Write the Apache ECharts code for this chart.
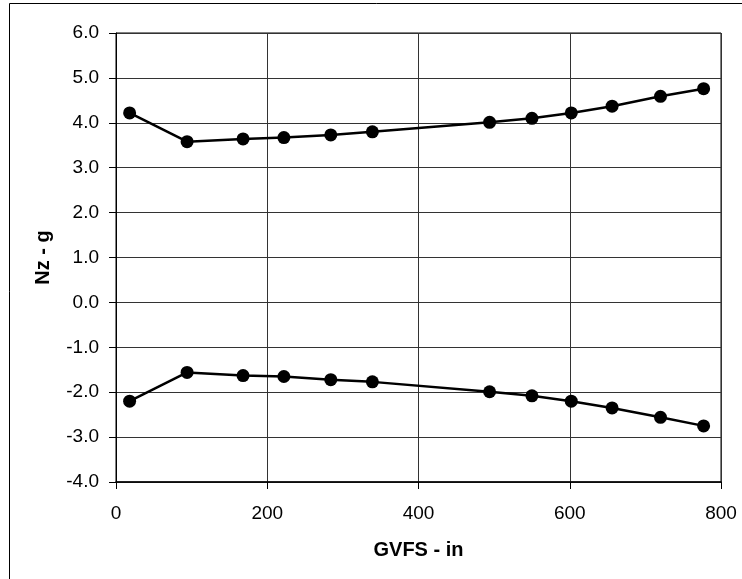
<!DOCTYPE html>
<html>
<head>
<meta charset="utf-8">
<script src="https://cdn.jsdelivr.net/npm/echarts@6/dist/echarts.min.js"></script>
<style>html,body{margin:0;padding:0;background:#fff}#c{width:742px;height:579px}</style>
</head>
<body>
<div id="c"></div>
<script>
var gvfs = [18, 94, 168, 222, 284, 339, 494, 550, 602, 656, 720, 777];
var nzUpper = [4.22, 3.58, 3.64, 3.67, 3.73, 3.80, 4.01, 4.10, 4.22, 4.37, 4.59, 4.76];
var nzLower = [-2.20, -1.56, -1.63, -1.65, -1.72, -1.77, -1.99, -2.08, -2.20, -2.35, -2.56, -2.75];
var xTicks = [0, 200, 400, 600, 800];
var yTicks = [-4, -3, -2, -1, 0, 1, 2, 3, 4, 5, 6];

function pairs(xs, ys){ return xs.map(function(x,i){ return [x, ys[i]]; }); }
var font = 'Liberation Sans, Arial, sans-serif';
var chart = echarts.init(document.getElementById('c'), null, {renderer:'canvas'});
var seriesStyle = {
  type:'line', symbol:'circle', symbolSize:13,
  lineStyle:{color:'#000', width:2.5},
  itemStyle:{color:'#000'},
  animation:false, z:5
};
chart.setOption({
  backgroundColor:'#fff',
  animation:false,
  graphic:[{type:'rect', shape:{x:9.5, y:3.5, width:800, height:700}, style:{fill:'none', stroke:'#000', lineWidth:1}, silent:true}],
  grid:{left:116, right:21, top:33, bottom:97, show:true, borderColor:'#000', borderWidth:1},
  xAxis:{
    type:'value', min:xTicks[0], max:xTicks[xTicks.length-1], interval:200,
    name:'GVFS - in', nameLocation:'middle', nameGap:58,
    nameTextStyle:{fontFamily:font, fontSize:20, fontWeight:'bold', color:'#000'},
    axisLine:{show:true, onZero:false, lineStyle:{color:'#000', width:1.5}},
    axisTick:{show:true, length:7, lineStyle:{color:'#000'}},
    axisLabel:{fontFamily:font, fontSize:19, color:'#000', margin:22},
    splitLine:{show:true, lineStyle:{color:'#333', width:1}}
  },
  yAxis:{
    type:'value', min:yTicks[0], max:yTicks[yTicks.length-1], interval:1,
    name:'Nz - g', nameLocation:'middle', nameGap:63,
    nameTextStyle:{fontFamily:font, fontSize:20, fontWeight:'bold', color:'#000'},
    axisLine:{show:true, onZero:false, lineStyle:{color:'#000', width:1}},
    axisTick:{show:true, length:7, lineStyle:{color:'#000'}},
    axisLabel:{fontFamily:font, fontSize:19, color:'#000', margin:17, formatter:function(v){return v.toFixed(1);}},
    splitLine:{show:true, lineStyle:{color:'#333', width:1}}
  },
  series:[
    Object.assign({name:'upper', data:pairs(gvfs, nzUpper)}, seriesStyle),
    Object.assign({name:'lower', data:pairs(gvfs, nzLower)}, seriesStyle)
  ]
});
</script>
</body>
</html>
